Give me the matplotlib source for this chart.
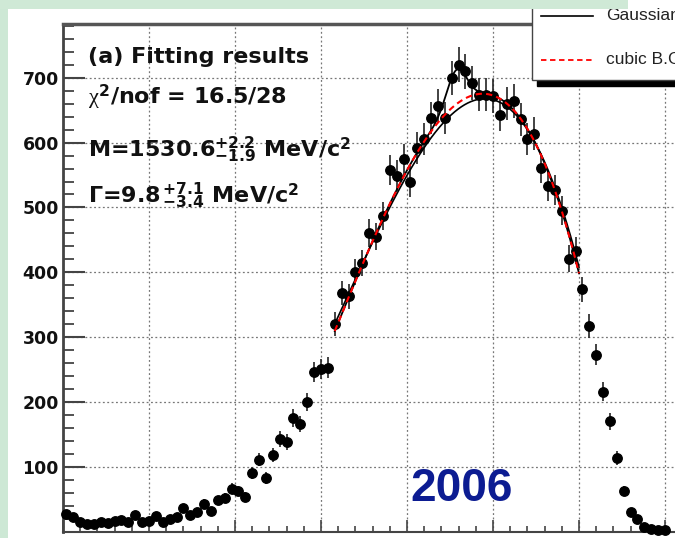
import numpy as np
import matplotlib
matplotlib.use('Agg')
import matplotlib.pyplot as plt
from matplotlib.patches import Rectangle
from matplotlib.lines import Line2D
from matplotlib.ticker import MultipleLocator

plt.rcParams['font.family'] = ['Liberation Sans', 'DejaVu Sans']
plt.rcParams['mathtext.fontset'] = 'custom'
plt.rcParams['mathtext.rm'] = 'DejaVu Sans:bold'
plt.rcParams['mathtext.bf'] = 'DejaVu Sans:bold'
plt.rcParams['mathtext.it'] = 'Liberation Serif'

# histogram: bin index and entries per bin
bins = list(range(88))
counts = [27, 22, 14, 11, 12, 14, 13, 16, 17, 14,
          25, 15, 16, 24, 15, 19, 23, 36, 25, 30,
          43, 32, 48, 52, 66, 63, 54, 90, 111, 83,
          118, 143, 138, 175, 166, 200, 246, 251, 253, 320,
          368, 363, 401, 414, 460, 455, 487, 558, 549, 574,
          540, 592, 606, 638, 657, 638, 700, 720, 710, 692,
          674, 674, 672, 643, 660, 664, 636, 606, 614, 561,
          533, 527, 495, 421, 433, 374, 317, 273, 216, 170,
          114, 62, 30, 20, 7, 4, 3, 2]
y_labels = [100, 200, 300, 400, 500, 600, 700]

# fit results: cubic background around bg_x0, gaussian on top
fit_range = (39.5, 75.0)
bg_x0 = 58.0
bg_coef = [665.4, 6.535, -1.011, -0.01749]
alt_coef = [656.0, 6.9, -0.95, -0.0185]
peak_mu = 57.2
peak_amp = 53.0
peak_sigma = 1.4

W, H = 675, 538
BOLD = dict(family='DejaVu Sans', fontweight='bold', color='#111111')


def cubic(x, coef):
    t = x - bg_x0
    return coef[0] + coef[1] * t + coef[2] * t ** 2 + coef[3] * t ** 3


def fig_box(x, y, w, h, **kw):
    # rectangle given in pixels from the top-left corner of the picture
    return Rectangle((x / W, 1 - (y + h) / H), w / W, h / H,
                     transform=fig.transFigure, **kw)


fig = plt.figure(figsize=(W / 100, H / 100), dpi=100, facecolor='white')

ax = fig.add_axes([63 / W, 1 - 531.5 / H, 688 / W, 507.5 / H])

x = np.array(bins) + 0.5
y = np.array(counts, dtype=float)
ax.errorbar(x, y, yerr=np.sqrt(y), fmt='o', color='black', ms=6.8,
            ecolor='#222222', elinewidth=1.2, capsize=0, clip_on=False, zorder=3)

xf = np.linspace(fit_range[0], fit_range[1], 400)
bg = cubic(xf, bg_coef)
total = bg + peak_amp * np.exp(-0.5 * ((xf - peak_mu) / peak_sigma) ** 2)
ax.plot(xf, cubic(xf, alt_coef), color='black', lw=1.2, zorder=4)
ax.plot(xf, total, color='black', lw=1.3, zorder=4)
ax.plot(xf, bg, color='red', lw=1.5, ls=(0, (3, 2)), zorder=5)

ax.set_xlim(0, 100)
ax.set_ylim(0, 783)
ax.xaxis.set_major_locator(MultipleLocator(12.5))
ax.xaxis.set_minor_locator(MultipleLocator(2.5))
ax.set_yticks(y_labels, labels=[str(v) for v in y_labels], fontsize=12.5, **BOLD)
ax.yaxis.set_minor_locator(MultipleLocator(20))
ax.tick_params(axis='y', which='major', direction='in', length=16, width=1.5,
               pad=3, color='#444444')
ax.tick_params(axis='y', which='minor', direction='in', length=8, width=1.3, color='#444444')
ax.tick_params(axis='x', which='major', direction='in', length=9, width=1.2,
               labelbottom=False, color='#444444')
ax.tick_params(axis='x', which='minor', direction='in', length=4, width=1.2, color='#444444')

ax.grid(True, which='major', color='#777777', ls=(0, (1.5, 2)), lw=0.9)
ax.set_axisbelow(True)
ax.spines['left'].set_linewidth(2)
ax.spines['left'].set_color('#444444')
ax.spines['top'].set_linewidth(2.5)
ax.spines['top'].set_color('#555555')
ax.spines['bottom'].set_linewidth(1.5)
ax.spines['bottom'].set_color('#444444')
ax.spines['right'].set_visible(False)

# fit summary
fig.text(88 / W, 1 - 63 / H, '(a) Fitting results', fontsize=16, va='baseline', **BOLD)
fig.text(88 / W, 1 - 103 / H, r'$\chi^{2}$/nof = 16.5/28', fontsize=16, va='baseline', **BOLD)
fig.text(88 / W, 1 - 157 / H, r'M=1530.6$^{+2.2}_{-1.9}$ MeV/c$^{2}$', fontsize=16,
         va='baseline', **BOLD)
fig.text(88 / W, 1 - 203 / H, r'$\Gamma$=9.8$\,^{+7.1}_{-3.4}$ MeV/c$^{2}$', fontsize=16,
         va='baseline', **BOLD)

fig.text(410 / W, 1 - 501 / H, '2006', fontsize=33, fontweight='bold',
         color='#0c1c92', va='baseline')

# legend box with shadow, running off the top right corner
fig.add_artist(fig_box(537, 80, 200, 6, color='black', zorder=5))
fig.add_artist(fig_box(532, -20, 200, 100, facecolor='white', edgecolor='#444444',
                       lw=1, zorder=6))
fig.add_artist(Line2D([541 / W, 593 / W], [1 - 16 / H] * 2, color='black', lw=1.2,
                      transform=fig.transFigure, zorder=7))
fig.add_artist(Line2D([541 / W, 593 / W], [1 - 60 / H] * 2, color='red', lw=1.3,
                      ls=(0, (3, 2)), transform=fig.transFigure, zorder=7))
fig.text(606 / W, 1 - 16 / H, 'Gaussian', fontsize=12.5, va='center', color='#222222', zorder=7)
fig.text(606 / W, 1 - 60 / H, 'cubic B.G', fontsize=12.5, va='center', color='#222222', zorder=7)

# slide border strips
fig.add_artist(fig_box(0, 0, 8, H, color='#cde8d5', lw=0, zorder=10))
fig.add_artist(fig_box(0, 0, 628, 9, color='#cfe9d6', lw=0, zorder=10))

fig.savefig('out.png', dpi=100, facecolor=fig.get_facecolor())
